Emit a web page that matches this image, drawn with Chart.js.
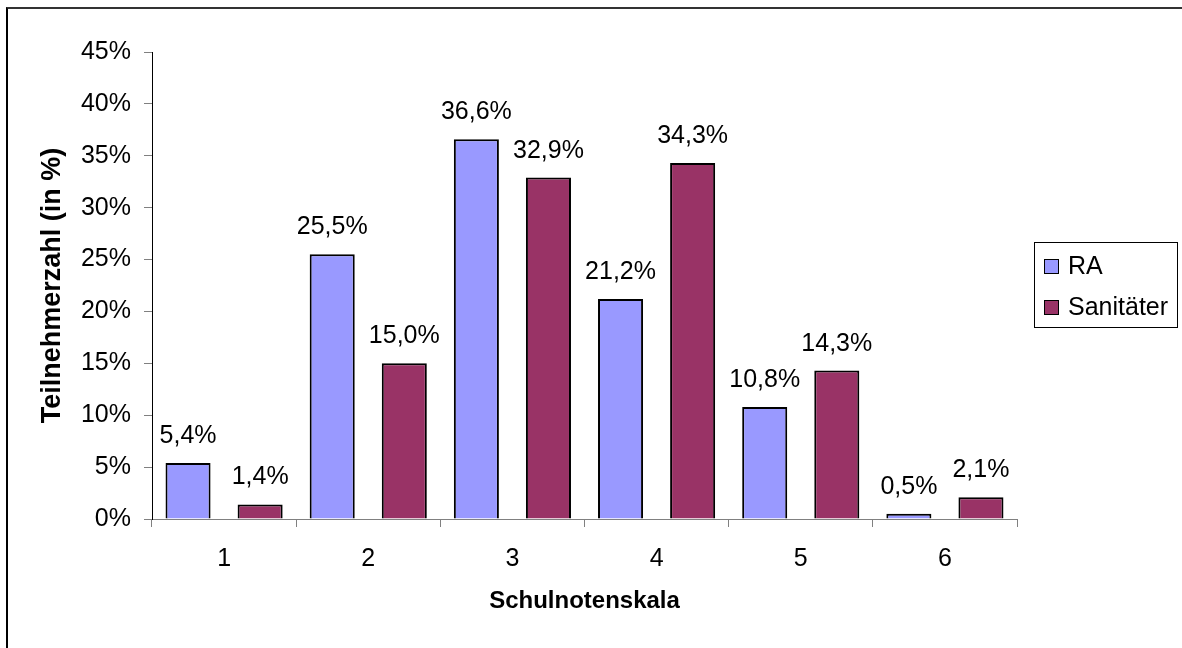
<!DOCTYPE html>
<html>
<head>
<meta charset="utf-8">
<script src="https://cdn.jsdelivr.net/npm/chart.js@4/dist/chart.umd.min.js"></script>
<style>
  html, body { margin: 0; padding: 0; background: #fff; overflow: hidden; }
  #frame { position: absolute; left: 6px; top: 7px; width: 1300px; height: 800px;
           border-top: 2px solid #333; border-left: 2px solid #000; }
  #wrap { position: absolute; left: 0; top: 0; width: 1182px; height: 648px; }
  #legend { position: absolute; left: 1034px; top: 242px; width: 142px; height: 84px;
            border: 1px solid #000; font: 25px "Liberation Sans", Arial, sans-serif; }
  #legend .item { position: absolute; left: 9px; height: 30px; line-height: 30px; white-space: nowrap; }
  #legend .box { display: inline-block; width: 13px; height: 13px; border: 1px solid #000;
                 margin-right: 9px; vertical-align: middle; position: relative; top: -1px; }
</style>
</head>
<body>
<div id="frame"></div>
<div id="wrap"><canvas id="myChart" width="1182" height="648"></canvas></div>
<div id="legend"></div>
<script>
const categories = ['1', '2', '3', '4', '5', '6'];
const raValues = [5.4, 25.5, 36.6, 21.2, 10.8, 0.5];
const saniValues = [1.4, 15.0, 32.9, 34.3, 14.3, 2.1];
const seriesNames = ['RA', 'Sanitäter'];
const yMax = 45;
const yStep = 5;

const fontFamily = '"Liberation Sans", Arial, sans-serif';

const fmt = v => v.toFixed(1).replace('.', ',') + '%';

// value labels above the bars
const barLabels = {
    id: 'barLabels',
    afterDatasetsDraw(chart) {
        const ctx = chart.ctx;
        ctx.save();
        ctx.font = '25px ' + fontFamily;
        ctx.fillStyle = '#000';
        ctx.textAlign = 'center';
        ctx.textBaseline = 'alphabetic';
        chart.data.datasets.forEach((ds, i) => {
            chart.getDatasetMeta(i).data.forEach((bar, j) => {
                ctx.fillText(fmt(ds.data[j]), bar.x, bar.y - 20);
            });
        });
        ctx.restore();
    }
};

const data = {
    labels: categories,
    datasets: [{
        label: seriesNames[0],
        data: raValues,
        backgroundColor: '#9999FF',
        borderColor: '#000',
        borderWidth: 2
    }, {
        label: seriesNames[1],
        data: saniValues,
        backgroundColor: '#993366',
        borderColor: '#000',
        borderWidth: 2
    }]
};

const config = {
    type: 'bar',
    data: data,
    options: {
        responsive: false,
        animation: false,
        layout: { padding: { top: 52, right: 165, bottom: 0, left: 0 } },
        datasets: { bar: { categoryPercentage: 1.0, barPercentage: 0.625 } },
        plugins: {
            legend: { display: false },
            tooltip: { enabled: false }
        },
        scales: {
            x: {
                grid: { drawOnChartArea: false, drawTicks: true, tickLength: 8, color: '#808080', offset: true },
                border: { display: true, color: '#808080', width: 1 },
                ticks: { color: '#000', font: { size: 25, family: fontFamily }, padding: 17, maxRotation: 0 },
                title: { display: true, text: 'Schulnotenskala', color: '#000',
                         font: { size: 24, weight: 'bold', family: fontFamily, lineHeight: 1.2 },
                         padding: { top: 0, bottom: 32 } },
                afterFit: s => { s.height = 129; }
            },
            y: {
                min: 0,
                max: yMax,
                grid: { drawOnChartArea: false, drawTicks: true, tickLength: 8, color: '#808080' },
                border: { display: true, color: '#000', width: 1 },
                ticks: { stepSize: yStep, color: '#000', font: { size: 25, family: fontFamily }, padding: 13,
                         callback: v => v + '%' },
                title: { display: true, text: 'Teilnehmerzahl (in %)', color: '#000',
                         font: { size: 27, weight: 'bold', family: fontFamily, lineHeight: 1.2 },
                         padding: { top: 36, bottom: 0 } },
                afterFit: s => { s.width = 152; }
            }
        }
    },
    plugins: [barLabels]
};

const chart = new Chart(document.getElementById('myChart'), config);

// legend built from the datasets
const legendEl = document.getElementById('legend');
chart.data.datasets.forEach((ds, i) => {
    const item = document.createElement('div');
    item.className = 'item';
    item.style.top = (7 + i * 41) + 'px';
    const box = document.createElement('span');
    box.className = 'box';
    box.style.background = ds.backgroundColor;
    item.appendChild(box);
    item.appendChild(document.createTextNode(ds.label));
    legendEl.appendChild(item);
});
</script>
</body>
</html>
